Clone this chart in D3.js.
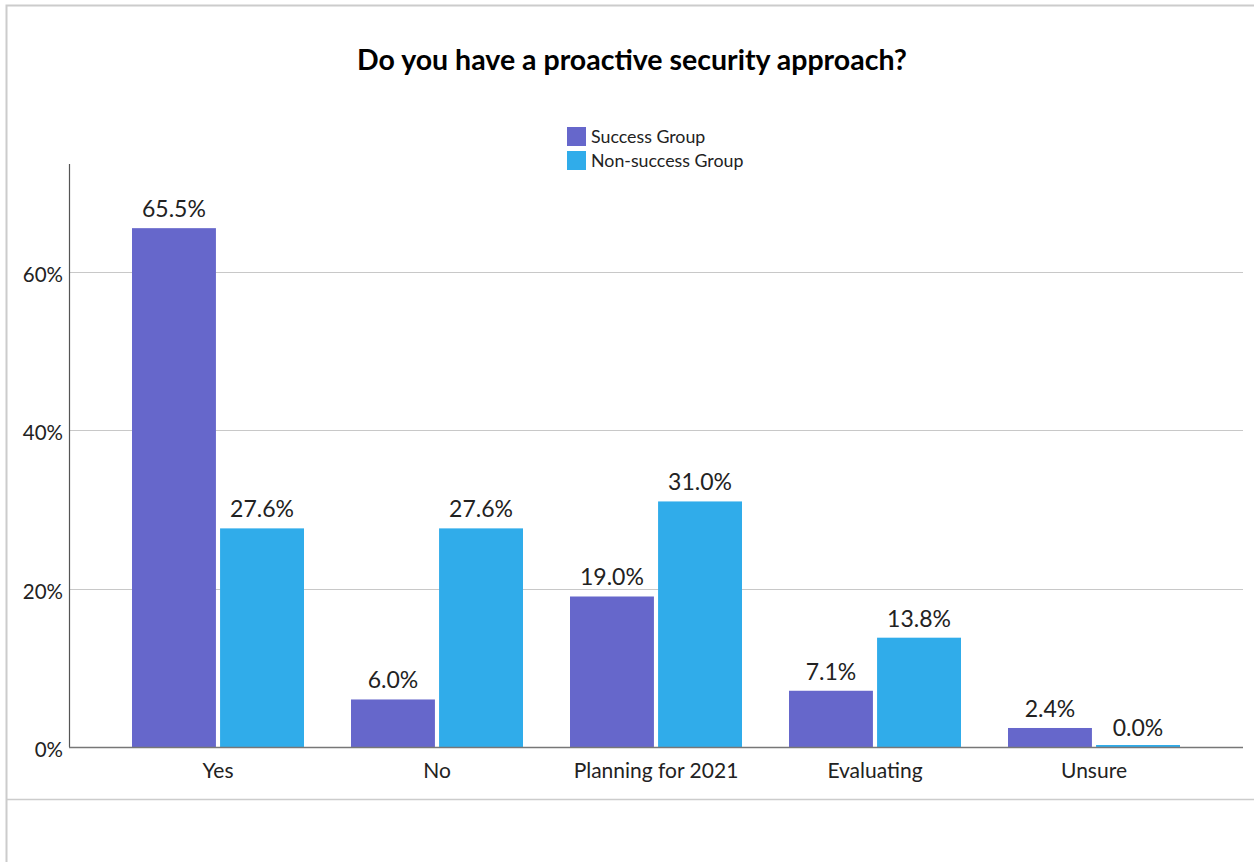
<!DOCTYPE html>
<html>
<head>
<meta charset="utf-8">
<script src="https://cdn.jsdelivr.net/npm/d3@7"></script>
<style>
  body { margin: 0; background: white; }
  text { font-family: Lato, "Open Sans", sans-serif; fill: #222; }
</style>
</head>
<body>
<div id="chart"></div>
<script>
// data
const categories = ['Yes', 'No', 'Planning for 2021', 'Evaluating', 'Unsure'];
const groups = ['Success Group', 'Non-success Group'];
const successValues = [65.5, 6.0, 19.0, 7.1, 2.4];
const nonSuccessValues = [27.6, 27.6, 31.0, 13.8, 0.0];
const yTicks = [0, 20, 40, 60];
const groupColors = ['#6667cb', '#30acea'];

const width = 1254, height = 862;

const svg = d3.select('#chart')
  .append('svg')
    .attr('width', width)
    .attr('height', height)
    .style('background', 'white');

// outer frame
svg.append('path')
  .attr('d', 'M6.5,' + height + 'V5.5H' + width)
  .attr('fill', 'none')
  .attr('stroke', '#cccccc')
  .attr('stroke-width', 2);
svg.append('line')
  .attr('x1', 7).attr('x2', width)
  .attr('y1', 799.5).attr('y2', 799.5)
  .attr('stroke', '#cccccc')
  .attr('stroke-width', 1.5);

// title
svg.append('text')
  .attr('x', 632)
  .attr('y', 70)
  .attr('text-anchor', 'middle')
  .style('font-size', '28.5px')
  .style('font-weight', 'bold')
  .style('fill', '#000')
  .text('Do you have a proactive security approach?');

let y = d3.scaleLinear()
  .domain([0, 73.6])
  .range([747, 164]);

let x0 = d3.scaleBand()
  .domain(categories)
  .range([108.5, 1203.5]);

let x1 = d3.scaleBand()
  .domain(groups)
  .range([x0.bandwidth() / 2 - 86, x0.bandwidth() / 2 + 86])
  .paddingInner(0.047);

// gridlines
svg.append('g')
  .selectAll('line')
  .data(yTicks.filter(d => d > 0))
  .enter()
  .append('line')
    .attr('x1', 69).attr('x2', 1243)
    .attr('y1', d => Math.round(y(d)) + 0.5)
    .attr('y2', d => Math.round(y(d)) + 0.5)
    .attr('stroke', '#c8c8c8')
    .attr('stroke-width', 1.2);

// y tick labels
svg.append('g')
  .selectAll('text')
  .data(yTicks)
  .enter()
  .append('text')
    .attr('x', 63)
    .attr('y', d => y(d) + 10)
    .attr('text-anchor', 'end')
    .style('font-size', '20.5px')
    .text(d => d + '%');

// bars
let rows = categories.map((c, i) => ({
  category: c,
  values: [
    { group: groups[0], value: successValues[i] },
    { group: groups[1], value: nonSuccessValues[i] }
  ]
}));

let color = d3.scaleOrdinal().domain(groups).range(groupColors);

let catGroup = svg.append('g')
  .selectAll('g')
  .data(rows)
  .enter()
  .append('g')
    .attr('transform', d => 'translate(' + x0(d.category) + ',0)');

catGroup.selectAll('rect')
  .data(d => d.values)
  .enter()
  .append('rect')
    .attr('x', d => x1(d.group))
    .attr('width', x1.bandwidth())
    .attr('y', d => Math.min(y(d.value), y(0) - 2))
    .attr('height', d => Math.max(y(0) - y(d.value), 2))
    .attr('fill', d => color(d.group));

catGroup.selectAll('text')
  .data(d => d.values)
  .enter()
  .append('text')
    .attr('x', d => x1(d.group) + x1.bandwidth() / 2)
    .attr('y', d => y(d.value) - 11)
    .attr('text-anchor', 'middle')
    .style('font-size', '23px')
    .text(d => d.value.toFixed(1) + '%');

// axes lines
svg.append('line')
  .attr('x1', 69.5).attr('x2', 69.5)
  .attr('y1', 164).attr('y2', 747)
  .attr('stroke', '#555')
  .attr('stroke-width', 1.2);
svg.append('line')
  .attr('x1', 69).attr('x2', 1243)
  .attr('y1', 747.5).attr('y2', 747.5)
  .attr('stroke', '#777')
  .attr('stroke-width', 1.5);

// category labels
svg.append('g')
  .selectAll('text')
  .data(categories)
  .enter()
  .append('text')
    .attr('x', d => x0(d) + x0.bandwidth() / 2)
    .attr('y', 778)
    .attr('text-anchor', 'middle')
    .style('font-size', '21px')
    .text(d => d);

// legend
let legend = svg.append('g')
  .selectAll('g')
  .data(groups)
  .enter()
  .append('g')
    .attr('transform', (d, i) => 'translate(567,' + (127 + i * 24) + ')');
legend.append('rect')
  .attr('width', 19).attr('height', 19)
  .attr('fill', d => color(d));
legend.append('text')
  .attr('x', 24)
  .attr('y', 16)
  .style('font-size', '17.8px')
  .text(d => d);
</script>
</body>
</html>
